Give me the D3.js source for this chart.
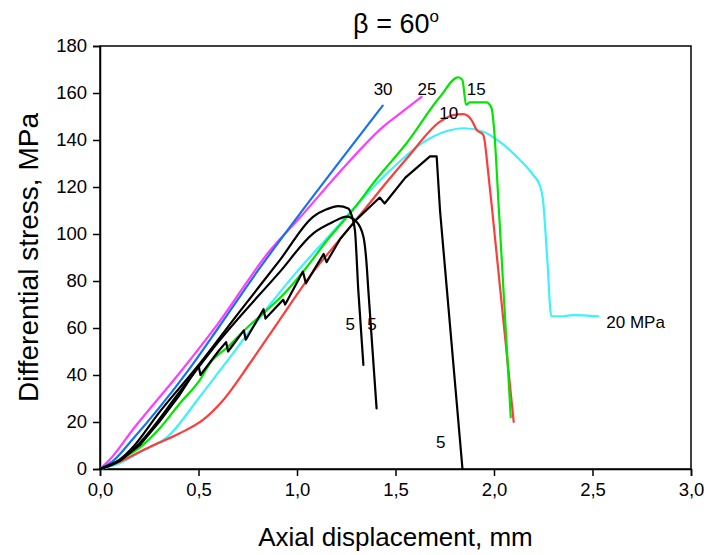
<!DOCTYPE html>
<html>
<head>
<meta charset="utf-8">
<script src="https://cdn.jsdelivr.net/npm/d3@7/dist/d3.min.js"></script>
<style>
html,body{margin:0;padding:0;background:#fff;}
text{font-family:"Liberation Sans",Arial,sans-serif;fill:#000;}
</style>
</head>
<body>
<svg id="chart" width="704" height="555"></svg>
<script>
// ---- data (axial displacement mm, differential stress MPa) ----
const xTicks = [0, 0.5, 1.0, 1.5, 2.0, 2.5, 3.0];
const yTicks = [0, 20, 40, 60, 80, 100, 120, 140, 160, 180];

const s30 = [[0,0],[0.06,3],[0.169,13],[0.3,26],[0.448,42],[0.6,60],[0.804,84.7],[1.0,107],[1.218,131],[1.435,154.6]];
const s25 = [[0,0],[0.05,4],[0.169,17],[0.415,42],[0.6,62],[0.863,93],[1.015,107],[1.218,126.5],[1.438,145.7],[1.55,153],[1.632,158.4]];
const s15 = [[0,0],[0.1,4],[0.2,9],[0.3,17],[0.406,28],[0.508,38],[0.558,45],[0.65,52],[0.745,60],[0.846,67.5],[0.95,76],[1.041,85],[1.15,97],[1.286,110.5],[1.4,123],[1.556,138.6],[1.726,158.4],[1.819,166.7],[1.84,165.5],[1.858,155],[1.878,156],[1.962,156],[1.988,153.5],[2.0,145],[2.025,110],[2.085,22]];
const s10 = [[0,0],[0.1,3.1],[0.254,9.5],[0.4,15],[0.524,21],[0.626,29.4],[0.761,45],[0.9,62],[1.083,84],[1.2,96],[1.354,111.6],[1.455,122],[1.556,132],[1.726,147.8],[1.793,150.6],[1.844,151],[1.886,148.5],[1.912,144.3],[1.946,142.1],[1.971,125.8],[1.991,110],[2.1,20]];
const s20 = [[0,0],[0.1,2.5],[0.2,7],[0.347,14],[0.5,30],[0.7,52],[0.863,70],[1.0,84],[1.15,98],[1.3,112],[1.472,127],[1.641,139],[1.75,143.5],[1.85,145],[1.946,143.5],[2.02,139.8],[2.132,131.5],[2.2,125],[2.231,121],[2.248,115],[2.27,90],[2.291,65],[2.35,65],[2.40,65.5],[2.53,65]];
const s5a = [[0,0],[0.1,4],[0.169,9.5],[0.3,24],[0.508,45],[0.7,66],[0.914,89],[1.083,107.4],[1.15,110.5],[1.21,111.9],[1.26,110.9],[1.277,108],[1.294,101.7],[1.311,76.2],[1.337,44.3]];
const s5b = [[0,0],[0.1,3.5],[0.2,11],[0.406,33],[0.6,54],[0.914,84],[1.083,100.3],[1.18,105],[1.252,107.4],[1.302,105.2],[1.337,98.9],[1.353,87.5],[1.362,76.2],[1.404,25.8]];
const s5c = [[0,0],[0.1,3.5],[0.2,10],[0.3,20],[0.4,31],[0.5,44],[0.51,40],[0.6,50],[0.64,54],[0.65,50],[0.73,59],[0.74,55],[0.83,68],[0.84,64],[0.93,72],[0.94,70],[1.03,84],[1.045,79],[1.135,91.5],[1.15,88],[1.22,98],[1.3,106],[1.42,115.5],[1.445,113],[1.55,124],[1.675,133],[1.709,133],[1.726,110],[1.84,0]];

const seriesNames = ["20 MPa","10","15","25","30","5","5","5"];
const seriesData = [s20, s10, s15, s25, s30, s5a, s5b, s5c];
const seriesColors = ["#3ff0ff","#ff3c3c","#00e600","#ff3cff","#1472f0","#000000","#000000","#000000"];
const seriesSmooth = [true, true, true, true, true, true, true, false];
// label anchor points (data units)
const labelX = [2.57, 1.77, 1.91, 1.66, 1.437, 1.27, 1.38, 1.73];
const labelY = [60, 149, 159, 159, 159, 59, 59, 9];

// ---- layout ----
const svg = d3.select("#chart");
const m = {left:100, top:46, right:691, bottom:469};
const x = d3.scaleLinear().domain([0,3]).range([m.left, m.right]);
const y = d3.scaleLinear().domain([0,180]).range([m.bottom, m.top]);

// frame
svg.append("rect").attr("x", m.left).attr("y", m.top)
  .attr("width", m.right-m.left).attr("height", m.bottom-m.top)
  .attr("fill","none").attr("stroke","#000").attr("stroke-width",1.5);

const fmt = d => d3.format(".1f")(d).replace(".", ",");
const xAxis = svg.append("g").attr("transform",`translate(0,${m.bottom})`)
  .call(d3.axisBottom(x).tickValues(xTicks).tickFormat(fmt).tickSize(7).tickPadding(7));
const yAxis = svg.append("g").attr("transform",`translate(${m.left},0)`)
  .call(d3.axisLeft(y).tickValues(yTicks).tickFormat(d3.format("d")).tickSize(7).tickPadding(6));
[xAxis,yAxis].forEach(a=>{
  a.select(".domain").attr("stroke","#000").attr("stroke-width",1.5);
  a.selectAll(".tick line").attr("stroke","#000").attr("stroke-width",1.5);
  a.selectAll(".tick text").attr("font-size",18.5).attr("font-family","Liberation Sans, Arial, sans-serif").attr("fill","#000");
});

// lines
const lineS = d3.line().x(d=>x(d[0])).y(d=>y(d[1])).curve(d3.curveMonotoneX);
const lineL = d3.line().x(d=>x(d[0])).y(d=>y(d[1]));
const g = svg.append("g");
seriesData.forEach((d,i)=>{
  g.append("path").datum(d).attr("d", seriesSmooth[i] ? lineS : lineL)
    .attr("fill","none").attr("stroke", seriesColors[i])
    .attr("stroke-width", 2.2).attr("stroke-linejoin","round").attr("stroke-linecap","round");
});

// series labels
seriesNames.forEach((n,i)=>{
  const anchor = i===0 ? "start" : "middle";
  svg.append("text").attr("x", x(labelX[i])).attr("y", y(labelY[i]))
    .attr("text-anchor", anchor).attr("font-size", 17).text(n);
});

// title
const t = svg.append("text").attr("x", 396).attr("y", 33).attr("text-anchor","middle").attr("font-size",27);
t.append("tspan").text("β = 60");
t.append("tspan").attr("dy",-11).attr("font-size",17).text("o");

// axis titles
svg.append("text").attr("x", (m.left+m.right)/2).attr("y", 546).attr("text-anchor","middle")
  .attr("font-size",26).text("Axial displacement, mm");
svg.append("text").attr("transform",`translate(38,${(m.top+m.bottom)/2}) rotate(-90)`)
  .attr("text-anchor","middle").attr("font-size",28).text("Differential stress, MPa");
</script>
</body>
</html>
